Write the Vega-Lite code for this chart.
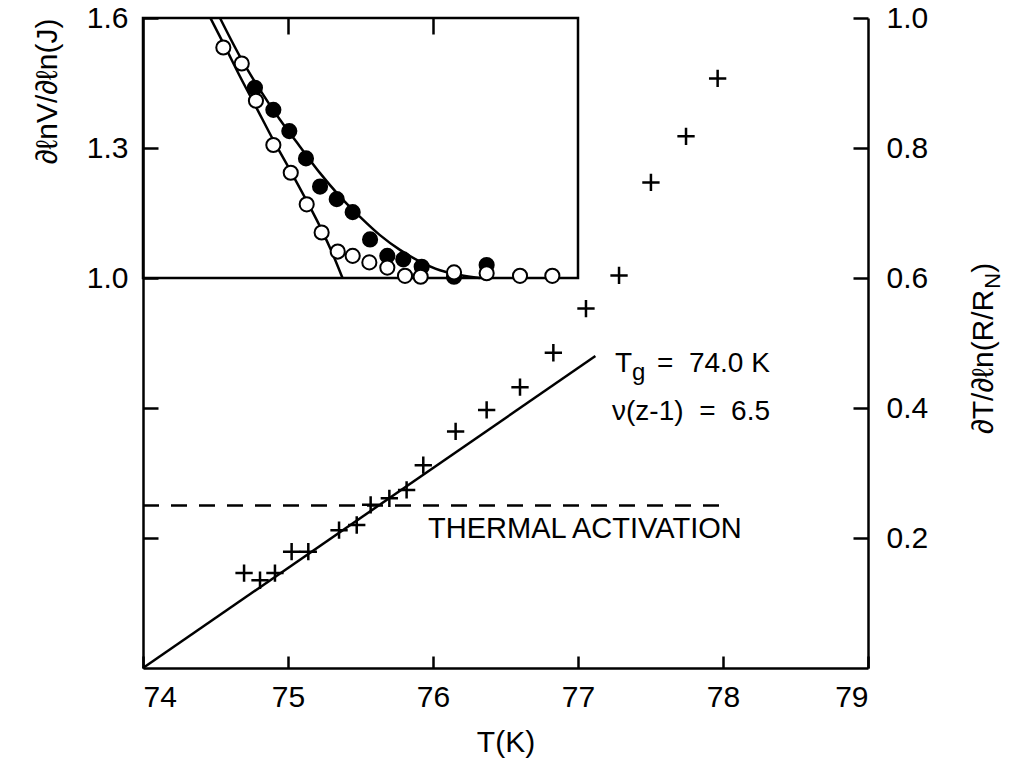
{
  "$schema": "https://vega.github.io/schema/vega-lite/v6.json",
  "width": 725,
  "height": 650,
  "autosize": {"type": "none"},
  "padding": {"left": 143, "top": 18, "right": 149, "bottom": 102},
  "background": "white",
  "config": {
    "view": {"stroke": null},
    "font": "Liberation Sans",
    "axis": {
      "domainColor": "black", "domainWidth": 2.5, "tickColor": "black", "tickWidth": 2.5,
      "labelColor": "black", "labelFont": "Liberation Sans", "labelFontSize": 30,
      "titleFont": "Liberation Sans", "titleFontSize": 30, "titleFontWeight": "normal", "titleColor": "black",
      "grid": false
    },
    "text": {"font": "Liberation Sans", "color": "black"}
  },
  "datasets": {
    "plus": [
      {"T": 74.697, "R": 0.146}, {"T": 74.807, "R": 0.135}, {"T": 74.91, "R": 0.146},
      {"T": 75.025, "R": 0.179}, {"T": 75.14, "R": 0.179}, {"T": 75.352, "R": 0.212},
      {"T": 75.474, "R": 0.22}, {"T": 75.57, "R": 0.251}, {"T": 75.699, "R": 0.261},
      {"T": 75.818, "R": 0.274}, {"T": 75.933, "R": 0.312}, {"T": 76.156, "R": 0.364},
      {"T": 76.37, "R": 0.397}, {"T": 76.6, "R": 0.432}, {"T": 76.83, "R": 0.485},
      {"T": 77.055, "R": 0.553}, {"T": 77.283, "R": 0.604}, {"T": 77.503, "R": 0.747},
      {"T": 77.745, "R": 0.818}, {"T": 77.963, "R": 0.907}
    ],
    "fit": [{"T": 74.0, "R": 0.0}, {"T": 77.12, "R": 0.48}],
    "curves": [
      {"c": "steep", "T": 74.465, "L": 1.6}, {"c": "steep", "T": 74.566, "L": 1.534},
      {"c": "steep", "T": 74.669, "L": 1.465}, {"c": "steep", "T": 74.779, "L": 1.395},
      {"c": "steep", "T": 74.899, "L": 1.318}, {"c": "steep", "T": 75.014, "L": 1.249},
      {"c": "steep", "T": 75.129, "L": 1.178}, {"c": "steep", "T": 75.232, "L": 1.111},
      {"c": "steep", "T": 75.301, "L": 1.061}, {"c": "steep", "T": 75.376, "L": 1.0},
      {"c": "shallow", "T": 74.531, "L": 1.6}, {"c": "shallow", "T": 74.669, "L": 1.511},
      {"c": "shallow", "T": 74.807, "L": 1.434}, {"c": "shallow", "T": 74.945, "L": 1.365},
      {"c": "shallow", "T": 75.083, "L": 1.303}, {"c": "shallow", "T": 75.221, "L": 1.242},
      {"c": "shallow", "T": 75.359, "L": 1.188}, {"c": "shallow", "T": 75.497, "L": 1.141},
      {"c": "shallow", "T": 75.634, "L": 1.099}, {"c": "shallow", "T": 75.772, "L": 1.065},
      {"c": "shallow", "T": 75.91, "L": 1.038}, {"c": "shallow", "T": 76.048, "L": 1.018},
      {"c": "shallow", "T": 76.186, "L": 1.007}, {"c": "shallow", "T": 76.324, "L": 1.0}
    ],
    "circles": [
      {"kind": "filled", "T": 74.772, "L": 1.439}, {"kind": "filled", "T": 74.899, "L": 1.388},
      {"kind": "filled", "T": 75.009, "L": 1.339}, {"kind": "filled", "T": 75.124, "L": 1.276},
      {"kind": "filled", "T": 75.221, "L": 1.211}, {"kind": "filled", "T": 75.336, "L": 1.182},
      {"kind": "filled", "T": 75.446, "L": 1.152}, {"kind": "filled", "T": 75.566, "L": 1.089},
      {"kind": "filled", "T": 75.685, "L": 1.051}, {"kind": "filled", "T": 75.795, "L": 1.043},
      {"kind": "filled", "T": 75.922, "L": 1.026}, {"kind": "filled", "T": 76.145, "L": 1.003},
      {"kind": "filled", "T": 76.37, "L": 1.03},
      {"kind": "open", "T": 74.554, "L": 1.532}, {"kind": "open", "T": 74.681, "L": 1.495},
      {"kind": "open", "T": 74.779, "L": 1.409}, {"kind": "open", "T": 74.899, "L": 1.307},
      {"kind": "open", "T": 75.019, "L": 1.243}, {"kind": "open", "T": 75.129, "L": 1.17},
      {"kind": "open", "T": 75.232, "L": 1.105}, {"kind": "open", "T": 75.343, "L": 1.061},
      {"kind": "open", "T": 75.446, "L": 1.051}, {"kind": "open", "T": 75.561, "L": 1.036},
      {"kind": "open", "T": 75.685, "L": 1.024}, {"kind": "open", "T": 75.807, "L": 1.005},
      {"kind": "open", "T": 75.915, "L": 1.003}, {"kind": "open", "T": 76.145, "L": 1.013},
      {"kind": "open", "T": 76.37, "L": 1.011}, {"kind": "open", "T": 76.6, "L": 1.005},
      {"kind": "open", "T": 76.823, "L": 1.005}
    ]
  },
  "layer": [
    {
      "layer": [
        {
          "data": {"name": "curves"},
          "mark": {"type": "line", "color": "black", "strokeWidth": 2.5, "interpolate": "monotone"},
          "encoding": {
            "x": {"field": "T", "type": "quantitative", "scale": {"domain": [74, 79], "zero": false, "nice": false},
                  "axis": {"orient": "top", "values": [75, 76], "labels": false, "domain": false, "tickSize": -16, "title": null}},
            "y": {"field": "L", "type": "quantitative", "scale": {"domain": [0.1, 1.6], "zero": false, "nice": false},
                  "axis": {"orient": "left", "values": [0.4, 0.7, 1.0, 1.3, 1.6],
                           "labelExpr": "datum.value >= 0.95 ? format(datum.value, '.1f') : ''",
                           "tickSize": -15, "labelPadding": 30,
                           "title": "∂ℓnV/∂ℓn(J)", "titleAnchor": "end", "titlePadding": 24}},
            "detail": {"field": "c", "type": "nominal"}
          }
        },
        {
          "data": {"values": [{}]},
          "mark": {"type": "rect", "filled": false, "stroke": "black", "strokeWidth": 2.5},
          "encoding": {
            "x": {"datum": 74, "type": "quantitative"},
            "x2": {"datum": 77},
            "y": {"datum": 1.0, "type": "quantitative"},
            "y2": {"datum": 1.6}
          }
        },
        {
          "data": {"name": "circles"},
          "mark": {"type": "point", "shape": "circle", "filled": true, "stroke": "black", "strokeWidth": 2, "size": 200, "opacity": 1},
          "encoding": {
            "x": {"field": "T", "type": "quantitative"},
            "y": {"field": "L", "type": "quantitative"},
            "fill": {"field": "kind", "type": "nominal", "scale": {"domain": ["filled", "open"], "range": ["black", "white"]}, "legend": null},
            "order": {"field": "kind", "sort": "ascending"}
          }
        }
      ]
    },
    {
      "layer": [
        {
          "data": {"name": "plus"},
          "mark": {"type": "point", "shape": "M-1,0H1M0,-1V1", "filled": false, "stroke": "black", "strokeWidth": 2.5, "size": 300, "opacity": 1},
          "encoding": {
            "x": {"field": "T", "type": "quantitative", "scale": {"domain": [74, 79], "zero": false, "nice": false},
                  "axis": {"orient": "bottom", "values": [74, 75, 76, 77, 78, 79], "format": "d", "tickSize": -12, "labelPadding": 26, "title": "T(K)", "titlePadding": 15}},
            "y": {"field": "R", "type": "quantitative", "scale": {"domain": [0, 1], "zero": false, "nice": false},
                  "axis": {"orient": "right", "values": [0.2, 0.4, 0.6, 0.8, 1.0], "format": ".1f", "tickSize": -15, "labelPadding": 33, "title": null}}
          }
        },
        {
          "data": {"name": "fit"},
          "mark": {"type": "line", "color": "black", "strokeWidth": 2.5},
          "encoding": {
            "x": {"field": "T", "type": "quantitative"},
            "y": {"field": "R", "type": "quantitative"}
          }
        },
        {
          "data": {"values": [{}]},
          "mark": {"type": "rule", "color": "black", "strokeWidth": 2.5, "strokeDash": [16, 12]},
          "encoding": {
            "x": {"datum": 74, "type": "quantitative"},
            "x2": {"datum": 78.05},
            "y": {"datum": 0.25, "type": "quantitative"}
          }
        },
        {
          "data": {"values": [{"label": "THERMAL ACTIVATION"}]},
          "mark": {"type": "text", "align": "left", "baseline": "alphabetic", "fontSize": 29},
          "encoding": {
            "x": {"datum": 75.966, "type": "quantitative"},
            "y": {"datum": 0.2, "type": "quantitative"},
            "text": {"field": "label"}
          }
        },
        {
          "data": {"values": [{"label": "T"}]},
          "mark": {"type": "text", "align": "left", "baseline": "alphabetic", "fontSize": 28},
          "encoding": {
            "x": {"datum": 77.255, "type": "quantitative"},
            "y": {"datum": 0.455, "type": "quantitative"},
            "text": {"field": "label"}
          }
        },
        {
          "data": {"values": [{"label": "g"}]},
          "mark": {"type": "text", "align": "left", "baseline": "alphabetic", "fontSize": 24, "dx": 17, "dy": 8},
          "encoding": {
            "x": {"datum": 77.255, "type": "quantitative"},
            "y": {"datum": 0.455, "type": "quantitative"},
            "text": {"field": "label"}
          }
        },
        {
          "data": {"values": [{"label": "=\u00a0\u00a074.0\u00a0K"}]},
          "mark": {"type": "text", "align": "left", "baseline": "alphabetic", "fontSize": 28},
          "encoding": {
            "x": {"datum": 77.545, "type": "quantitative"},
            "y": {"datum": 0.455, "type": "quantitative"},
            "text": {"field": "label"}
          }
        },
        {
          "data": {"values": [{"label": "ν(z-1)\u00a0\u00a0=\u00a0\u00a06.5"}]},
          "mark": {"type": "text", "align": "right", "baseline": "alphabetic", "fontSize": 28},
          "encoding": {
            "x": {"datum": 78.324, "type": "quantitative"},
            "y": {"datum": 0.3815, "type": "quantitative"},
            "text": {"field": "label"}
          }
        },
        {
          "data": {"values": [{"label": "∂T/∂ℓn(R/R"}]},
          "mark": {"type": "text", "align": "right", "baseline": "alphabetic", "fontSize": 30, "angle": 270},
          "encoding": {
            "x": {"datum": 79.86, "type": "quantitative"},
            "y": {"datum": 0.582, "type": "quantitative"},
            "text": {"field": "label"}
          }
        },
        {
          "data": {"values": [{"label": "N"}]},
          "mark": {"type": "text", "align": "left", "baseline": "alphabetic", "fontSize": 22, "angle": 270, "dx": 1, "dy": 7},
          "encoding": {
            "x": {"datum": 79.86, "type": "quantitative"},
            "y": {"datum": 0.582, "type": "quantitative"},
            "text": {"field": "label"}
          }
        },
        {
          "data": {"values": [{"label": ")"}]},
          "mark": {"type": "text", "align": "left", "baseline": "alphabetic", "fontSize": 30, "angle": 270, "dx": 17},
          "encoding": {
            "x": {"datum": 79.86, "type": "quantitative"},
            "y": {"datum": 0.582, "type": "quantitative"},
            "text": {"field": "label"}
          }
        }
      ]
    }
  ],
  "resolve": {"scale": {"y": "independent"}, "axis": {"x": "independent", "y": "independent"}}
}
